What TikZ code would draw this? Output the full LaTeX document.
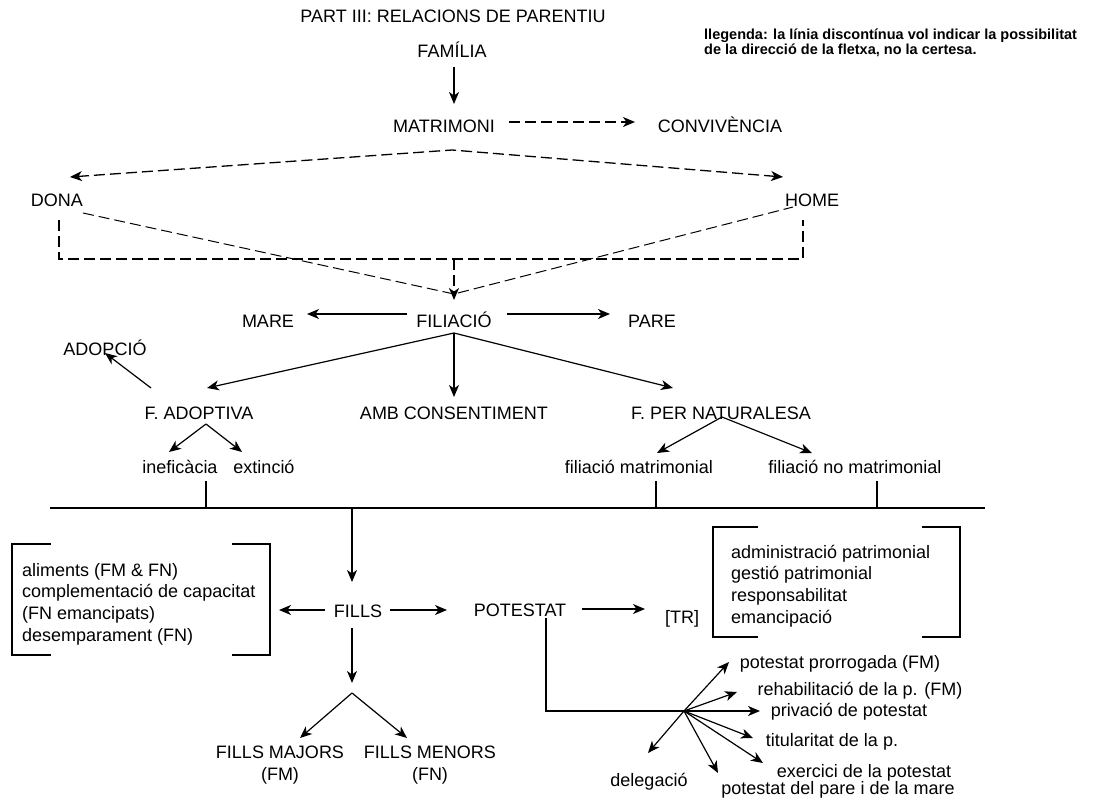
\documentclass[tikz,border=0pt]{standalone}
\usepackage{fontspec}
\setmainfont{Liberation Sans}
\usetikzlibrary{arrows.meta}
\begin{document}
\begin{tikzpicture}[x=1pt,y=-1pt,font=\fontsize{18}{21.7}\selectfont,
  txt/.style={anchor=base,inner sep=0pt},
  tip/.tip={Stealth[length=12pt,width=10pt,inset=3.5pt]},
  ln/.style={line width=1.2pt},
  ar/.style={ln,-tip},
  dsh/.style={line width=1.3pt,dash pattern=on 11pt off 5pt},
  dar/.style={dsh,-tip},
  dboth/.style={dsh,tip-tip},
  thin dsh/.style={line width=1pt,dash pattern=on 11pt off 5pt}
]
\useasboundingbox (0,0) rectangle (1096,800);

% ---------- texts ----------
\node[txt] (title) at (453,23) {PART III: RELACIONS DE PARENTIU};
\node[anchor=north west,align=left,inner sep=0pt,font=\bfseries\fontsize{14.5}{12.5}\selectfont] (legend) at (704,29)
  {llegenda: la línia discontínua vol indicar la possibilitat\\de la direcció de la fletxa, no la certesa.};
\node[txt] (familia) at (452,58) {FAMÍLIA};
\node[txt] (matrimoni) at (444,132) {MATRIMONI};
\node[txt] (convivencia) at (720,132) {CONVIVÈNCIA};
\node[txt] (dona) at (57,206) {DONA};
\node[txt] (home) at (812,206) {HOME};
\node[txt] (mare) at (268,327) {MARE};
\node[txt] (filiacio) at (454,327) {FILIACIÓ};
\node[txt] (pare) at (652,327) {PARE};
\node[txt] (adopcio) at (105,355) {ADOPCIÓ};
\node[txt] (fadoptiva) at (199,419) {F. ADOPTIVA};
\node[txt] (amb) at (454,419) {AMB CONSENTIMENT};
\node[txt] (fnat) at (721,419) {F. PER NATURALESA};
\node[txt] (inef) at (180,473) {ineficàcia};
\node[txt] (ext) at (264,473) {extinció};
\node[txt] (fmat) at (639,473) {filiació matrimonial};
\node[txt] (fnomat) at (855,473) {filiació no matrimonial};
\node[anchor=west,align=left,inner sep=0pt] (lbox) at (22,604)
  {aliments (FM \& FN)\\complementació de capacitat\\(FN emancipats)\\desemparament (FN)};
\node[anchor=west,align=left,inner sep=0pt] (rbox) at (731,586)
  {administració patrimonial\\gestió patrimonial\\responsabilitat\\emancipació};
\node[txt] (fills) at (358,617) {FILLS};
\node[txt] (potestat) at (520,616) {POTESTAT};
\node[txt] (tr) at (682,623) {[TR]};
\node[align=center,inner sep=0pt,font=\fontsize{18}{22}\selectfont] (majors) at (280,765) {FILLS MAJORS\\(FM)};
\node[align=center,inner sep=0pt,font=\fontsize{18}{22}\selectfont] (menors) at (430,765) {FILLS MENORS\\(FN)};
\node[txt] (prorrogada) at (840,668) {potestat prorrogada (FM)};
\node[txt] (rehab) at (860,695) {rehabilitació de la p. (FM)};
\node[txt] (privacio) at (849,716) {privació de potestat};
\node[txt] (titular) at (832,746) {titularitat de la p.};
\node[txt] (exercici) at (864,777) {exercici de la potestat};
\node[txt] (paremare) at (838,794) {potestat del pare i de la mare};
\node[txt] (delegacio) at (649,786) {delegació};

% ---------- connector points ----------
\coordinate (famS) at (454,67);   \coordinate (matN) at (454,104);
\coordinate (matE) at (509,122);  \coordinate (conW) at (635,122);
\coordinate (donaT) at (70,177);  \coordinate (peak) at (452,150); \coordinate (homeT) at (783,177);
\coordinate (donaB) at (59,220);  \coordinate (rBL) at (59,259);
\coordinate (rBR) at (803,259);   \coordinate (homeB) at (803,220);
\coordinate (rMid) at (454,259);  \coordinate (filN) at (454,300);
\coordinate (donaE) at (83,213);  \coordinate (homeW) at (793,207);
\coordinate (conv) at (454,294);
\coordinate (filW) at (407,314);  \coordinate (mareE) at (307,314);
\coordinate (filE) at (507,314);  \coordinate (pareW) at (610,314);
\coordinate (filS) at (454,333);
\coordinate (fadN) at (207,388);  \coordinate (ambN) at (454,397); \coordinate (fnatN) at (673,388);
\coordinate (fadNW) at (151,388); \coordinate (adoS) at (105,353);
\coordinate (fadS) at (206,424);  \coordinate (inefN) at (169,452); \coordinate (extN) at (242,452);
\coordinate (fnatS) at (722,417); \coordinate (fmatN) at (657,453); \coordinate (fnomN) at (812,453);
\coordinate (t1) at (206,481); \coordinate (t1b) at (206,508);
\coordinate (t2) at (656,481); \coordinate (t2b) at (656,508);
\coordinate (t3) at (877,481); \coordinate (t3b) at (877,508);
\coordinate (barL) at (50,508);   \coordinate (barR) at (985,508);
\coordinate (barF) at (352,508);  \coordinate (fillsN) at (352,582);
\coordinate (fillsW) at (325,610); \coordinate (lboxE) at (279,610);
\coordinate (fillsE) at (390,610); \coordinate (potW) at (447,610);
\coordinate (fillsS) at (352,628); \coordinate (splitN) at (352,683);
\coordinate (split) at (352,693); \coordinate (majN) at (300,738); \coordinate (menN) at (407,738);
\coordinate (potE) at (582,609);  \coordinate (trW) at (645,609);
\coordinate (potS) at (546,618);  \coordinate (corner) at (546,711);
\coordinate (hub) at (684,711);   \coordinate (privW) at (760,711);
\coordinate (prorT) at (729,662); \coordinate (rehT) at (737,692);
\coordinate (titT) at (753,738);  \coordinate (exeT) at (763,763);
\coordinate (pmT) at (718,773);   \coordinate (delT) at (648,753);

% ---------- connectors ----------
\draw[ar] (famS) -- (matN);
\draw[dar] (matE) -- (conW);
\draw[dboth] (donaT) -- (peak) -- (homeT);
\draw[dsh] (donaB) -- (rBL) -- (rBR) -- (homeB);
\draw[dar] (rMid) -- (filN);
\draw[thin dsh] (donaE) -- (conv) -- (homeW);

\draw[ar] (filW) -- (mareE);
\draw[ar] (filE) -- (pareW);
\draw[ar] (filS) -- (fadN);
\draw[ar] (filS) -- (ambN);
\draw[ar] (filS) -- (fnatN);
\draw[ar] (fadNW) -- (adoS);
\draw[ar] (fadS) -- (inefN);
\draw[ar] (fadS) -- (extN);
\draw[ar] (fnatS) -- (fmatN);
\draw[ar] (fnatS) -- (fnomN);

\draw[ln] (t1) -- (t1b);
\draw[ln] (t2) -- (t2b);
\draw[ln] (t3) -- (t3b);
\draw[ln] (barL) -- (barR);
\draw[ar] (barF) -- (fillsN);

\draw[ar] (fillsW) -- (lboxE);
\draw[ar] (fillsE) -- (potW);
\draw[ar] (fillsS) -- (splitN);
\draw[ar] (split) -- (majN);
\draw[ar] (split) -- (menN);
\draw[ar] (potE) -- (trW);
\draw[ar] (potS) -- (corner) -- (privW);
\draw[ar] (hub) -- (prorT);
\draw[ar] (hub) -- (rehT);
\draw[ar] (hub) -- (titT);
\draw[ar] (hub) -- (exeT);
\draw[ar] (hub) -- (pmT);
\draw[ar] (hub) -- (delT);

% ---------- brackets ----------
\draw[ln] (51,544) -- (12,544) -- (12,655) -- (51,655);
\draw[ln] (232,544) -- (270,544) -- (270,655) -- (232,655);
\draw[ln] (758,527) -- (713,527) -- (713,637) -- (758,637);
\draw[ln] (922,527) -- (960,527) -- (960,637) -- (922,637);
\end{tikzpicture}
\end{document}
